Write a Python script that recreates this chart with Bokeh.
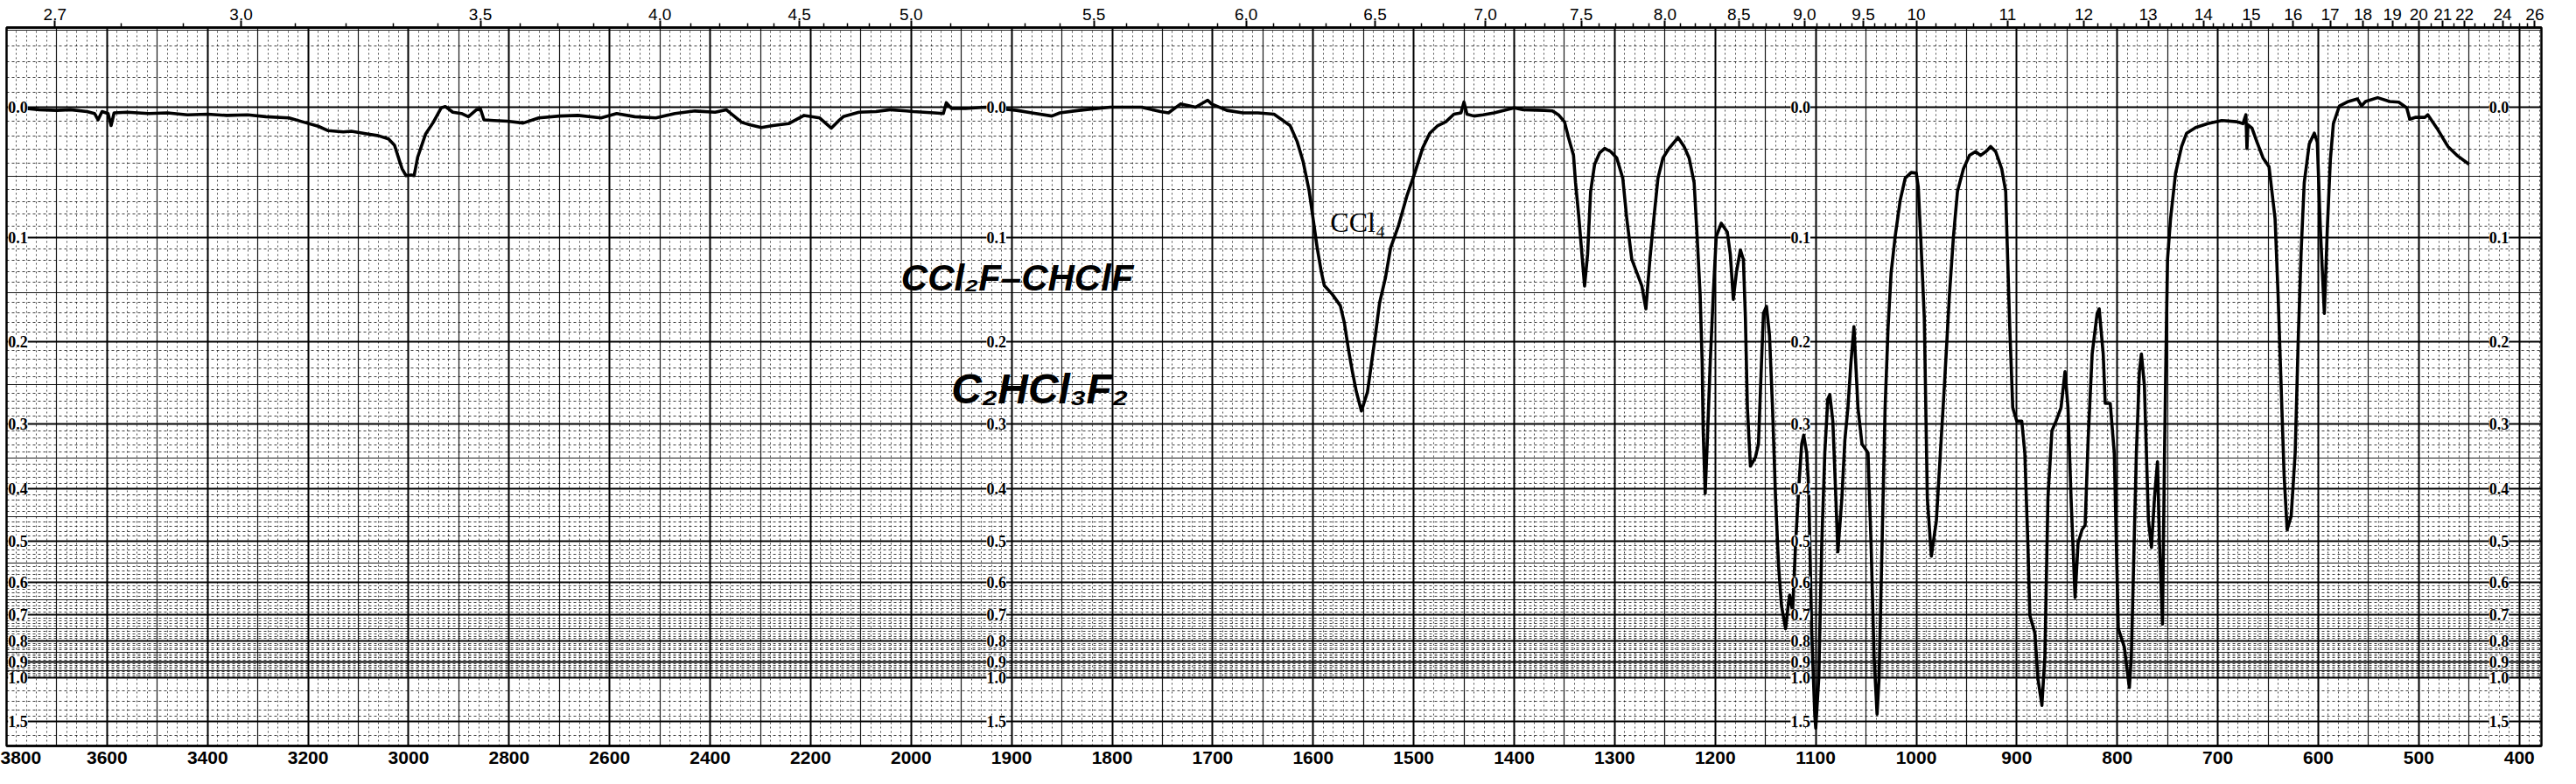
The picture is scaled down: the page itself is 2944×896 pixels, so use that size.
import numpy as np
from bokeh.plotting import figure
from bokeh.models import (Range1d, LinearAxis, FixedTicker, Grid,
                          ColumnDataSource, LabelSet, Label)
from bokeh.embed import file_html
from bokeh.resources import INLINE

# ---------------- data ----------------
wavenumber = [
    3797, 3780, 3760, 3735, 3700, 3673, 3640, 3625, 3618, 3610, 3598, 3592, 3586, 3560,
    3517, 3480, 3440, 3400, 3362, 3320, 3284, 3238, 3207, 3180, 3160, 3130, 3114, 3083,
    3060, 3040, 3028, 3018, 3013, 3005, 2995, 2989, 2982, 2966, 2951, 2935, 2927, 2912,
    2895, 2881, 2865, 2857, 2850, 2830, 2803, 2772, 2741, 2700, 2663, 2617, 2586, 2550,
    2508, 2470, 2430, 2390, 2368, 2337, 2320, 2298, 2275, 2244, 2213, 2182, 2159, 2145,
    2135, 2104, 2070, 2042, 2010, 1998, 1977, 1968, 1965, 1960, 1946, 1926, 1895, 1880,
    1860, 1852, 1833, 1802, 1771, 1752, 1744, 1732, 1717, 1705, 1701, 1686, 1670, 1655,
    1639, 1631, 1623, 1616, 1610, 1604, 1600, 1596, 1592, 1589, 1581, 1573, 1569, 1565,
    1561, 1557, 1552, 1546, 1542, 1538, 1534, 1528, 1523, 1515, 1507, 1499, 1491, 1484,
    1476, 1468, 1460, 1453, 1450, 1447, 1440, 1431, 1420, 1400, 1391, 1370, 1362, 1356,
    1350, 1346, 1341, 1339, 1336, 1333, 1330, 1327, 1324, 1320, 1315, 1310, 1304, 1298,
    1292, 1288, 1283, 1278, 1273, 1269, 1265, 1262, 1257, 1252, 1246, 1237, 1231, 1226,
    1221, 1218, 1215, 1213, 1212, 1210, 1208, 1205, 1202, 1199, 1194, 1188, 1185, 1182,
    1179, 1175, 1172, 1170, 1168, 1165, 1160, 1157, 1154, 1152, 1149, 1146, 1143, 1140,
    1137, 1134, 1130, 1127, 1126, 1123, 1120, 1117, 1114, 1112, 1109, 1107, 1104, 1101,
    1100, 1097, 1094, 1091, 1088, 1086, 1083, 1080, 1078, 1074, 1071, 1068, 1065, 1062,
    1058, 1054, 1048, 1045, 1042, 1039, 1037, 1034, 1031, 1028, 1025, 1021, 1016, 1011,
    1005, 1000, 998, 995, 992, 989, 985, 980, 976, 972, 967, 963, 959, 953,
    947, 941, 936, 930, 926, 921, 915, 911, 910, 907, 904, 900, 895, 892,
    889, 887, 882, 879, 875, 872, 869, 865, 861, 856, 852, 849, 846, 842,
    839, 835, 832, 829, 825, 820, 818, 814, 812, 807, 803, 799, 793, 788,
    786, 781, 778, 776, 773, 769, 766, 763, 760, 758, 755, 753, 751, 750,
    747, 742, 736, 731, 722, 710, 696, 681, 675, 672, 671, 670, 666, 661,
    655, 649, 643, 640, 637, 634, 631, 627, 623, 620, 617, 614, 609, 604,
    601, 598, 594, 591, 588, 585, 579, 570, 561, 557, 553, 541, 529, 520,
    512, 509, 503, 494, 491, 482, 471, 462, 450,
]
transmittance = [
    1.000, 0.997, 0.998, 0.996, 0.995, 0.996, 0.993, 0.990, 0.980, 0.993, 0.990, 0.971, 0.991, 0.992,
    0.990, 0.991, 0.988, 0.989, 0.987, 0.988, 0.985, 0.983, 0.976, 0.970, 0.963, 0.961, 0.962, 0.958,
    0.955, 0.950, 0.940, 0.915, 0.903, 0.892, 0.893, 0.892, 0.921, 0.958, 0.976, 0.999, 1.001, 0.992,
    0.990, 0.985, 0.996, 0.997, 0.980, 0.979, 0.978, 0.975, 0.983, 0.986, 0.987, 0.983, 0.990, 0.985,
    0.983, 0.990, 0.994, 0.992, 0.996, 0.976, 0.972, 0.968, 0.971, 0.974, 0.987, 0.983, 0.967, 0.978,
    0.985, 0.992, 0.993, 0.996, 0.994, 0.993, 0.991, 0.990, 1.007, 0.998, 0.998, 1.000, 0.995, 0.991,
    0.986, 0.991, 0.995, 1.000, 1.000, 0.993, 0.991, 1.005, 1.000, 1.011, 1.005, 0.995, 0.991, 0.991,
    0.989, 0.980, 0.971, 0.946, 0.914, 0.868, 0.823, 0.778, 0.741, 0.719, 0.705, 0.687, 0.660, 0.619,
    0.583, 0.551, 0.521, 0.551, 0.596, 0.642, 0.691, 0.732, 0.778, 0.814, 0.859, 0.896, 0.936, 0.959,
    0.971, 0.977, 0.989, 0.991, 1.008, 0.989, 0.986, 0.988, 0.991, 0.999, 0.996, 0.995, 0.994, 0.988,
    0.977, 0.952, 0.924, 0.881, 0.832, 0.775, 0.718, 0.768, 0.867, 0.910, 0.928, 0.935, 0.930, 0.920,
    0.888, 0.824, 0.760, 0.739, 0.718, 0.682, 0.760, 0.810, 0.888, 0.920, 0.935, 0.952, 0.938, 0.920,
    0.881, 0.796, 0.704, 0.597, 0.490, 0.391, 0.469, 0.597, 0.704, 0.796, 0.817, 0.803, 0.768, 0.697,
    0.739, 0.775, 0.760, 0.668, 0.526, 0.434, 0.448, 0.469, 0.597, 0.675, 0.686, 0.640, 0.526, 0.384,
    0.277, 0.213, 0.178, 0.220, 0.231, 0.206, 0.313, 0.398, 0.469, 0.483, 0.455, 0.398, 0.171, 0.043,
    0.021, 0.100, 0.313, 0.455, 0.540, 0.547, 0.505, 0.384, 0.299, 0.384, 0.476, 0.526, 0.597, 0.654,
    0.526, 0.469, 0.455, 0.313, 0.135, 0.043, 0.100, 0.313, 0.526, 0.654, 0.739, 0.796, 0.853, 0.888,
    0.897, 0.896, 0.874, 0.775, 0.668, 0.384, 0.292, 0.348, 0.455, 0.561, 0.704, 0.796, 0.867, 0.903,
    0.924, 0.930, 0.924, 0.931, 0.938, 0.930, 0.903, 0.867, 0.810, 0.654, 0.526, 0.505, 0.505, 0.455,
    0.313, 0.199, 0.171, 0.100, 0.057, 0.135, 0.384, 0.490, 0.505, 0.526, 0.583, 0.526, 0.384, 0.227,
    0.313, 0.334, 0.341, 0.476, 0.611, 0.675, 0.682, 0.611, 0.533, 0.533, 0.455, 0.178, 0.149, 0.085,
    0.135, 0.455, 0.583, 0.611, 0.561, 0.348, 0.306, 0.384, 0.441, 0.313, 0.185, 0.455, 0.668, 0.760,
    0.824, 0.896, 0.938, 0.959, 0.968, 0.974, 0.979, 0.977, 0.974, 0.988, 0.935, 0.972, 0.967, 0.945,
    0.920, 0.906, 0.824, 0.704, 0.561, 0.419, 0.334, 0.355, 0.455, 0.632, 0.775, 0.881, 0.942, 0.959,
    0.945, 0.810, 0.675, 0.810, 0.917, 0.974, 1.002, 1.009, 1.013, 1.002, 1.009, 1.015, 1.009, 1.008,
    0.999, 0.981, 0.984, 0.984, 0.988, 0.967, 0.938, 0.924, 0.910,
]

# axis tick labels
wavenumber_ticks = [3800, 3600, 3400, 3200, 3000, 2800, 2600, 2400, 2200, 2000,
                    1900, 1800, 1700, 1600, 1500, 1400, 1300, 1200, 1100, 1000,
                    900, 800, 700, 600, 500, 400]
micron_ticks = [2.7, 3.0, 3.5, 4.0, 4.5, 5.0, 5.5, 6.0, 6.5, 7.0, 7.5, 8.0, 8.5, 9.0,
                9.5, 10, 11, 12, 13, 14, 15, 16, 17, 18, 19, 20, 21, 22, 24, 26]
micron_labels = ["2.7", "3.0", "3.5", "4.0", "4.5", "5.0", "5.5", "6.0", "6.5", "7.0",
                 "7.5", "8.0", "8.5", "9.0", "9.5", "10", "11", "12", "13", "14", "15",
                 "16", "17", "18", "19", "20", "21", "22", "24", "26"]
absorbance_ticks = [0.0, 0.1, 0.2, 0.3, 0.4, 0.5, 0.6, 0.7, 0.8, 0.9, 1.0, 1.5]
absorbance_labels = ["0.0", "0.1", "0.2", "0.3", "0.4", "0.5", "0.6", "0.7", "0.8",
                     "0.9", "1.0", "1.5"]
# wavenumbers where the chart paper prints its absorbance scale
scale_columns = [3797, 1925, 1125, 430]

# ---------------- chart-paper x scale (scale doubles below 2000 cm-1) ----------------
NU_MAX, NU_BREAK, NU_MIN = 3800.0, 2000.0, 378.0


def to_u(nu):
    nu = np.asarray(nu, dtype=float)
    return np.where(nu >= NU_BREAK, (NU_MAX - nu) / 2.0,
                    (NU_MAX - NU_BREAK) / 2.0 + (NU_BREAK - nu))


def a_to_t(a):
    return 10.0 ** (-np.asarray(a, dtype=float))


FONT = "Liberation Sans"

p = figure(width=2928, height=880, output_backend="svg", toolbar_location=None,
           x_range=Range1d(float(to_u(NU_MAX)), float(to_u(NU_MIN))),
           y_range=Range1d(-0.007, 1.1255),
           x_axis_type=None, y_axis_type=None,
           min_border_left=7, min_border_right=24, min_border_top=31, min_border_bottom=28)
p.background_fill_color = "white"
p.border_fill_color = "white"
p.outline_line_color = "black"
p.outline_line_width = 2.5


def add_grid(dim, ticks, width, alpha, dash="solid"):
    g = Grid(dimension=dim, ticker=FixedTicker(ticks=[float(t) for t in ticks]),
             grid_line_color="black", grid_line_width=width, grid_line_alpha=alpha,
             grid_line_dash=dash)
    p.add_layout(g)


# vertical rulings
seg1_major = list(range(3800, 1999, -200))
seg1_mid = list(range(3700, 2000, -200))
seg1_minor = [v for v in range(3780, 2000, -20) if v % 100 != 0]
seg2_major = list(range(1900, 399, -100))
seg2_mid = list(range(1950, 399, -100))
seg2_minor = [v for v in range(1990, 379, -10) if v % 50 != 0]
add_grid(0, to_u(seg1_minor + seg2_minor), 1.0, 0.7, "2 3")
add_grid(0, to_u(seg1_mid + seg2_mid), 1.2, 0.9)
add_grid(0, to_u(seg1_major + seg2_major), 2.0, 1.0)

# horizontal rulings (linear in transmittance, ruled in absorbance)
minor_a = [round(a * 0.01, 2) for a in range(-5, 101) if a % 5 != 0]
mid_a = [round(a * 0.01, 2) for a in range(-5, 100, 10)]
extra_a = [1.1, 1.2, 1.3, 1.4, 2.0]
add_grid(1, a_to_t(minor_a + extra_a), 1.0, 0.75, "3 3")
add_grid(1, a_to_t(mid_a), 1.2, 0.9)
add_grid(1, a_to_t(absorbance_ticks), 2.0, 1.0)

# bottom axis: wavenumber
u_bottom = [float(u) for u in to_u(wavenumber_ticks)]
xb = LinearAxis(ticker=FixedTicker(ticks=u_bottom),
                major_label_overrides={u: str(w) for u, w in zip(u_bottom, wavenumber_ticks)},
                major_tick_in=0, major_tick_out=0, minor_tick_in=0, minor_tick_out=0,
                axis_line_color="black", axis_line_width=2.5,
                major_label_standoff=6,
                major_label_text_font=FONT, major_label_text_font_style="bold",
                major_label_text_font_size="21px", major_label_text_color="black")
p.add_layout(xb, "below")

# top axis: wavelength in microns
u_top = [float(u) for u in to_u(10000.0 / np.array(micron_ticks, dtype=float))]
minor_um = ([round(x * 0.1, 1) for x in range(27, 100)] +
            [round(x * 0.2, 1) for x in range(50, 75)] +
            [round(x * 0.5, 1) for x in range(30, 53)])
minor_um = sorted(set(m for m in minor_um if m not in micron_ticks and 2.64 < m < 26.4))
u_top_minor = [float(u) for u in to_u(10000.0 / np.array(minor_um))]
xt = LinearAxis(ticker=FixedTicker(ticks=u_top, minor_ticks=u_top_minor),
                major_label_overrides={u: s for u, s in zip(u_top, micron_labels)},
                major_tick_in=0, major_tick_out=8, minor_tick_in=0, minor_tick_out=5,
                major_tick_line_width=2, minor_tick_line_width=1.5,
                axis_line_color="black", axis_line_width=2.5,
                major_label_standoff=1,
                major_label_text_font=FONT, major_label_text_font_size="19px",
                major_label_text_color="black")
p.add_layout(xt, "above")

# spectrum trace
p.line(to_u(wavenumber), transmittance, line_color="black", line_width=3.6,
       line_join="round")

# absorbance scale printed on the chart paper
cols_x, cols_y, cols_t = [], [], []
for c in scale_columns:
    for a, s in zip(absorbance_ticks, absorbance_labels):
        cols_x.append(float(to_u(c)))
        cols_y.append(float(a_to_t(a)))
        cols_t.append(s)
scale_src = ColumnDataSource(dict(x=cols_x, y=cols_y, text=cols_t))
p.add_layout(LabelSet(x="x", y="y", text="text", source=scale_src,
                      text_align="left", text_baseline="middle",
                      text_font=FONT, text_font_size="18px", text_font_style="bold",
                      text_color="black",
                      background_fill_color="white", background_fill_alpha=1.0))

# handwritten / typed annotations
p.add_layout(Label(x=float(to_u(1583)), y=0.818, text="CCl\u2084",
                   text_font="Liberation Serif", text_font_size="32px",
                   text_baseline="middle", text_align="left", text_color="black"))
p.add_layout(Label(x=float(to_u(2020)), y=0.731, text="CCl\u2082F\u2013CHClF",
                   text_font=FONT, text_font_style="bold italic", text_font_size="42px",
                   text_baseline="middle", text_align="left", text_color="black"))
p.add_layout(Label(x=float(to_u(1960)), y=0.556, text="C\u2082HCl\u2083F\u2082",
                   text_font=FONT, text_font_style="bold italic", text_font_size="48px",
                   text_baseline="middle", text_align="left", text_color="black"))

open("out.html", "w").write(file_html(p, INLINE))
